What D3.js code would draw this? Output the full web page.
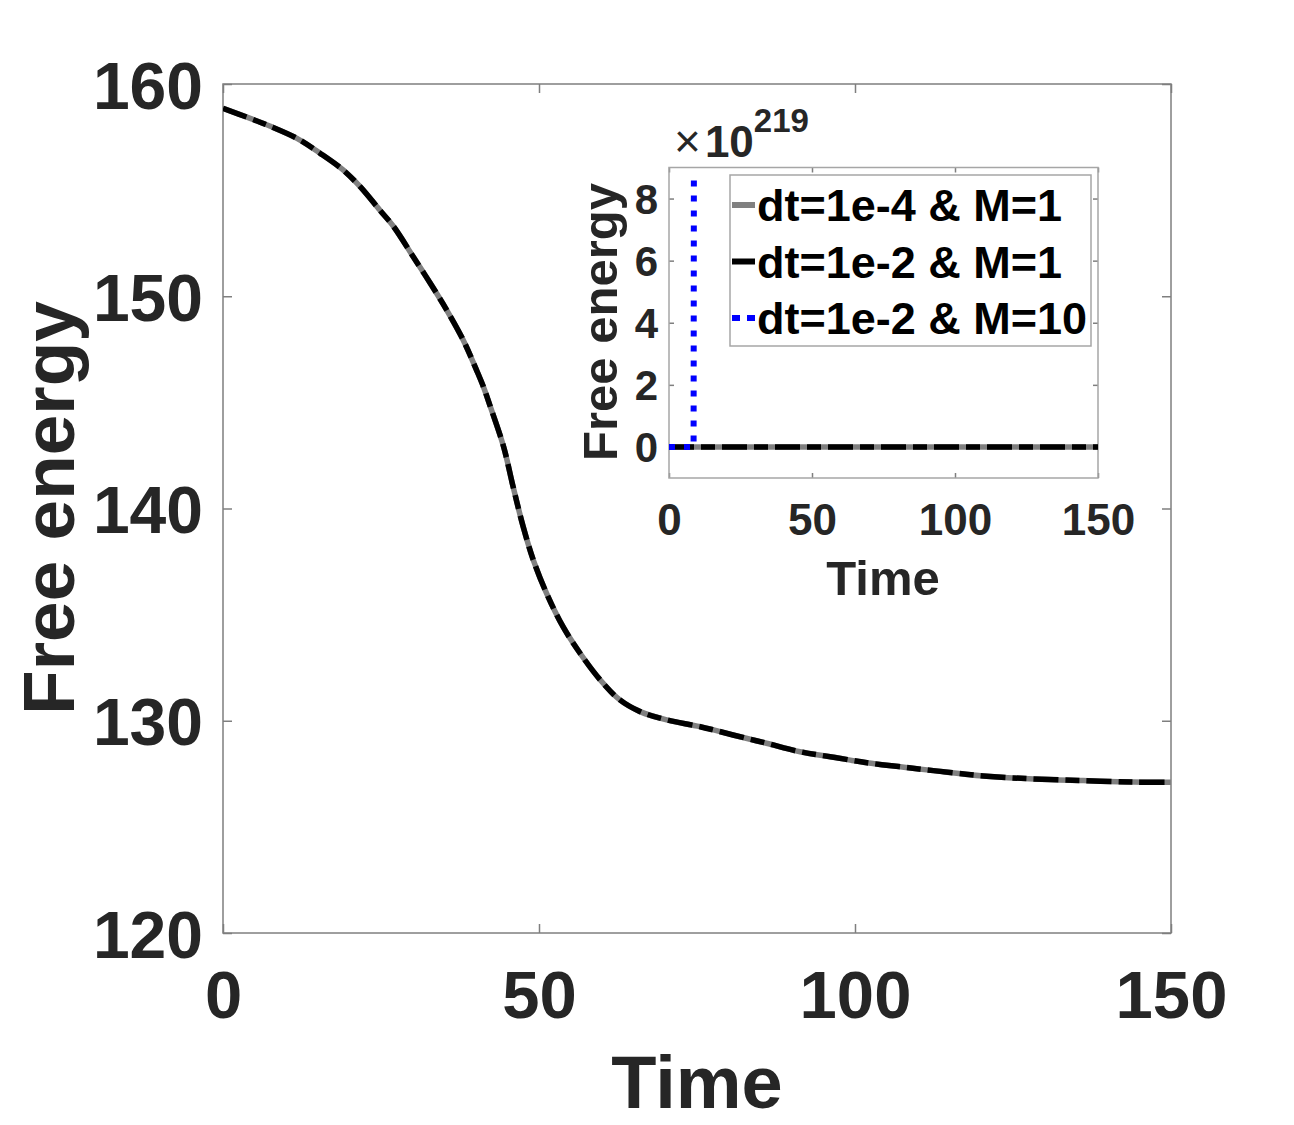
<!DOCTYPE html>
<html>
<head>
<meta charset="utf-8">
<script src="https://cdn.jsdelivr.net/npm/d3@7"></script>
<style>
body { margin: 0; background: #fff; }
text { font-family: "Liberation Sans", Arial, sans-serif; font-weight: bold; }
</style>
</head>
<body>
<div id="chart"></div>
<script>
// free energy vs time
var time = [0, 4.3, 7.4, 11.7, 15.4, 19, 21.7, 24.8, 27, 30.1, 32.8, 35.4, 38, 40.1, 41.2, 42.3, 44.4, 45.9, 47.5, 49.1,
            51.2, 53.8, 56.5, 59.7, 62.8, 66, 70.2, 75.5, 80.7, 86, 91.3, 96.6, 101.9, 106.9, 112.4, 120.3, 128.2, 136.1, 144, 150];
var energyFine = [158.85, 158.38, 158.02, 157.44, 156.73, 155.95, 155.16, 154.06, 153.28, 151.86, 150.61, 149.35, 147.94, 146.53, 145.74, 144.8, 142.91, 141.03, 139.14, 137.57,
                  136.0, 134.43, 133.18, 131.92, 130.98, 130.43, 130.04, 129.72, 129.33, 128.94, 128.54, 128.28, 128.02, 127.84, 127.65, 127.4, 127.26, 127.18, 127.11, 127.1];
var energyCoarse = [158.85, 158.38, 158.02, 157.44, 156.73, 155.95, 155.16, 154.06, 153.28, 151.86, 150.61, 149.35, 147.94, 146.53, 145.74, 144.8, 142.91, 141.03, 139.14, 137.57,
                    136.0, 134.43, 133.18, 131.92, 130.98, 130.43, 130.04, 129.72, 129.33, 128.94, 128.54, 128.28, 128.02, 127.84, 127.65, 127.4, 127.26, 127.18, 127.11, 127.1];
// M=10 run blows up right after t ~ 8.6
var timeM10 = [0, 8.6, 8.7];
var energyM10 = [158.85, 158.0, 8.6e219];

var xTicks = [0, 50, 100, 150];
var yTicks = [120, 130, 140, 150, 160];
var insetYTicks = [0, 2, 4, 6, 8];
var legendLabels = ["dt=1e-4 & M=1", "dt=1e-2 & M=1", "dt=1e-2 & M=10"];

var W = 1294, H = 1125;
var svg = d3.select("#chart")
  .append("svg")
    .attr("width", W)
    .attr("height", H);
svg.append("rect").attr("width", W).attr("height", H).attr("fill", "#fff");

var axisGray = "#7f7f7f", textCol = "#262626";

// ---------- main axes ----------
var x = d3.scaleLinear().domain([0, 150]).range([223, 1171]);
var y = d3.scaleLinear().domain([120, 160]).range([933, 84]);

svg.append("clipPath").attr("id", "clipMain")
  .append("rect").attr("x", 223).attr("y", 84).attr("width", 948).attr("height", 849);

function styleAxis(g) {
  g.select(".domain").remove();
  g.selectAll(".tick line").attr("stroke", axisGray).attr("stroke-width", 1.5);
}

svg.append("g")
  .attr("transform", "translate(0,933)")
  .call(d3.axisBottom(x).tickValues(xTicks).tickSize(-9))
  .call(styleAxis)
  .call(function(g) {
    g.selectAll("text").attr("y", 85).attr("dy", null)
      .style("font-size", "67px").attr("fill", textCol);
  });
svg.append("g")
  .attr("transform", "translate(0,84)")
  .call(d3.axisTop(x).tickValues(xTicks).tickSize(-9).tickFormat(""))
  .call(styleAxis);
svg.append("g")
  .attr("transform", "translate(223,0)")
  .call(d3.axisLeft(y).tickValues(yTicks).tickSize(-9))
  .call(styleAxis)
  .call(function(g) {
    g.selectAll("text").attr("x", -20).attr("dy", null).attr("y", 24)
      .style("font-size", "66px").attr("fill", textCol);
  });
svg.append("g")
  .attr("transform", "translate(1171,0)")
  .call(d3.axisRight(y).tickValues(yTicks).tickSize(-9).tickFormat(""))
  .call(styleAxis);

svg.append("rect")
  .attr("x", 223).attr("y", 84).attr("width", 948).attr("height", 849)
  .attr("fill", "none").attr("stroke", axisGray).attr("stroke-width", 1.5);

var line = d3.line()
  .x(function(d) { return x(d[0]); })
  .y(function(d) { return y(d[1]); })
  .curve(d3.curveCatmullRom.alpha(0.5));

var mainG = svg.append("g").attr("clip-path", "url(#clipMain)");
mainG.append("path")
  .datum(d3.zip(time, energyFine))
  .attr("d", line)
  .attr("fill", "none").attr("stroke", "#808080").attr("stroke-width", 5.5);
mainG.append("path")
  .datum(d3.zip(time, energyCoarse))
  .attr("d", line)
  .attr("fill", "none").attr("stroke", "#000").attr("stroke-width", 5.5)
  .attr("stroke-dasharray", "25,7,14,7");

svg.append("text")
  .attr("x", 697).attr("y", 1108)
  .attr("text-anchor", "middle")
  .style("font-size", "74px").attr("fill", textCol)
  .text("Time");
svg.append("text")
  .attr("transform", "translate(74,508) rotate(-90)")
  .attr("text-anchor", "middle")
  .style("font-size", "73px").attr("fill", textCol)
  .text("Free energy");

// ---------- inset axes (values shown in units of 1e219) ----------
var ix = d3.scaleLinear().domain([0, 150]).range([669, 1098]);
var iy = d3.scaleLinear().domain([-1, 9]).range([478, 167.5]);
var scaleExp = 1e219;

svg.append("rect")
  .attr("x", 669).attr("y", 167.5).attr("width", 429).attr("height", 310.5)
  .attr("fill", "#fff");
svg.append("clipPath").attr("id", "clipInset")
  .append("rect").attr("x", 669).attr("y", 167.5).attr("width", 429).attr("height", 310.5);

svg.append("g")
  .attr("transform", "translate(0,478)")
  .call(d3.axisBottom(ix).tickValues(xTicks).tickSize(-5))
  .call(styleAxis)
  .call(function(g) {
    g.selectAll("text").attr("y", 57).attr("dy", null)
      .style("font-size", "44px").attr("fill", textCol);
  });
svg.append("g")
  .attr("transform", "translate(0,167.5)")
  .call(d3.axisTop(ix).tickValues(xTicks).tickSize(-5).tickFormat(""))
  .call(styleAxis);
svg.append("g")
  .attr("transform", "translate(669,0)")
  .call(d3.axisLeft(iy).tickValues(insetYTicks).tickSize(-5))
  .call(styleAxis)
  .call(function(g) {
    g.selectAll("text").attr("x", -11).attr("dy", null).attr("y", 15)
      .style("font-size", "42px").attr("fill", textCol);
  });
svg.append("g")
  .attr("transform", "translate(1098,0)")
  .call(d3.axisRight(iy).tickValues(insetYTicks).tickSize(-5).tickFormat(""))
  .call(styleAxis);

svg.append("rect")
  .attr("x", 669).attr("y", 167.5).attr("width", 429).attr("height", 310.5)
  .attr("fill", "none").attr("stroke", "#a6a6a6").attr("stroke-width", 1.5);

var iline = d3.line()
  .x(function(d) { return ix(d[0]); })
  .y(function(d) { return iy(d[1] / scaleExp); });

var insetG = svg.append("g").attr("clip-path", "url(#clipInset)");
insetG.append("path")
  .datum(d3.zip(time, energyFine))
  .attr("d", iline)
  .attr("fill", "none").attr("stroke", "#808080").attr("stroke-width", 5.5);
insetG.append("path")
  .datum(d3.zip(time, energyCoarse))
  .attr("d", iline)
  .attr("fill", "none").attr("stroke", "#000").attr("stroke-width", 5.5)
  .attr("stroke-dasharray", "25,7,14,7");
insetG.append("path")
  .datum(d3.zip(timeM10, energyM10))
  .attr("d", iline)
  .attr("fill", "none").attr("stroke", "#0000ff").attr("stroke-width", 6)
  .attr("stroke-dasharray", "6,9");

// exponent label
var expText = svg.append("text")
  .attr("x", 674).attr("y", 157)
  .style("font-size", "44px").attr("fill", textCol);
expText.append("tspan").style("font-weight", "normal").style("font-size", "46px").text("\u00d7");
expText.append("tspan").attr("dx", 4).text("10");
expText.append("tspan").attr("dy", -25).style("font-size", "33px").text("219");

svg.append("text")
  .attr("x", 883).attr("y", 595)
  .attr("text-anchor", "middle")
  .style("font-size", "49px").attr("fill", textCol)
  .text("Time");
svg.append("text")
  .attr("transform", "translate(617,322) rotate(-90)")
  .attr("text-anchor", "middle")
  .style("font-size", "49px").attr("fill", textCol)
  .text("Free energy");

// legend
var legend = svg.append("g");
legend.append("rect")
  .attr("x", 730).attr("y", 175).attr("width", 361).attr("height", 171)
  .attr("fill", "#fff").attr("stroke", "#a6a6a6").attr("stroke-width", 1.5);

var legendStyles = [
  {stroke: "#808080", dash: null},
  {stroke: "#000", dash: null},
  {stroke: "#0000ff", dash: "8,7"}
];
legend.selectAll(".entry")
  .data(legendLabels)
  .enter()
  .append("g")
  .attr("class", "entry")
  .attr("transform", function(d, i) { return "translate(732," + (205 + i * 56.5) + ")"; })
  .each(function(d, i) {
    var g = d3.select(this);
    g.append("line")
      .attr("x1", 0).attr("x2", 23).attr("y1", 0).attr("y2", 0)
      .attr("stroke", legendStyles[i].stroke).attr("stroke-width", 6)
      .attr("stroke-dasharray", legendStyles[i].dash);
    g.append("text")
      .attr("x", 25).attr("y", 16)
      .style("font-size", "45px").attr("fill", "#000")
      .text(d);
  });
</script>
</body>
</html>
